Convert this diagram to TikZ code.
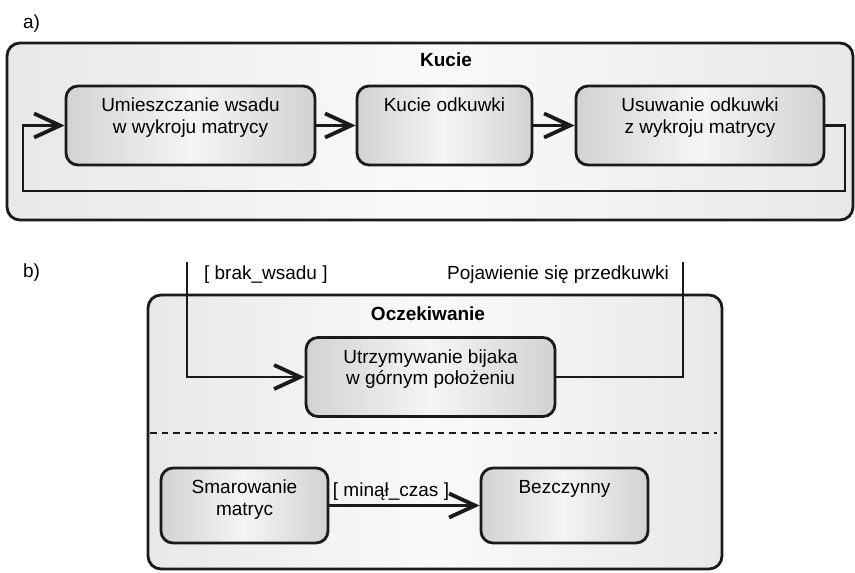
\documentclass[tikz,border=0pt]{standalone}
\usepackage{fontspec}
\setmainfont{Liberation Sans}
\usetikzlibrary{arrows.meta}
\definecolor{ink}{HTML}{1A1A1A}
\definecolor{outerside}{HTML}{E8E8E8}
\definecolor{outermid}{HTML}{FAFAFA}
\definecolor{stateside}{HTML}{D2D2D2}
\definecolor{statemid}{HTML}{F5F5F5}
\begin{document}
\begin{tikzpicture}[x=0.5pt,y=-0.5pt,
  every node/.style={font=\fontsize{9.5}{10.75}\selectfont},
  outerbox/.style={draw=ink, line width=1.4pt, rounded corners=6.5pt, inner sep=0pt,
    left color=outerside, right color=outerside, middle color=outermid},
  statebox/.style={draw=ink, line width=1.4pt, rounded corners=6pt, inner sep=0pt,
    left color=stateside, right color=stateside, middle color=statemid},
  statetext/.style={anchor=north, align=center, inner sep=0pt, yshift=-6.5pt},
  title/.style={anchor=base, font=\fontsize{9.5}{10.75}\selectfont\bfseries},
  flow/.style={draw=ink, line width=1.35pt,
    -{Straight Barb[length=13pt,width=12pt,line width=1.9pt]}},
  wire/.style={draw=ink, line width=1.35pt},
  divider/.style={draw=ink, line width=1pt, dash pattern=on 3.25pt off 2.5pt},
]
\useasboundingbox (0,0) rectangle (855,572);

% ---- a) forging cycle ----
\node[anchor=base west] (capA) at (16,29) {a)};
\node[outerbox, minimum width=423pt, minimum height=88.5pt] (kucie) at (430,131.5) {};
\node[title] (kucieT) at (446,67) {Kucie};

\node[statebox, minimum width=124.5pt, minimum height=39.5pt] (a1) at (190.5,125.5) {};
\node[statebox, minimum width=87.5pt, minimum height=39.5pt] (a2) at (444.5,125.5) {};
\node[statebox, minimum width=124pt, minimum height=39.5pt] (a3) at (700,125.5) {};
\node[statetext] (a1t) at (a1.north) {Umieszczanie wsadu\\w wykroju matrycy};
\node[statetext] (a2t) at (a2.north) {Kucie odkuwki};
\node[statetext] (a3t) at (a3.north) {Usuwanie odkuwki\\z wykroju matrycy};

\draw[flow] (a1) -- (a2);
\draw[flow] (a2) -- (a3);
\coordinate (loopR) at (845,191);
\coordinate (loopL) at (23,191);
\draw[flow] (a3.east) -| (loopR) -- (loopL) |- (a1.west);

% ---- b) waiting state ----
\node[anchor=base west] (capB) at (16,277) {b)};
\node[outerbox, minimum width=287pt, minimum height=137pt] (ocz) at (435,432) {};
\node[title] (oczT) at (428,320) {Oczekiwanie};

\node[statebox, minimum width=124.5pt, minimum height=39.5pt] (bu) at (430.5,377) {};
\node[statetext] (but) at (bu.north) {Utrzymywanie bijaka\\w górnym położeniu};

\coordinate (divL) at (150,433);
\coordinate (divR) at (717,433);
\draw[divider] (divL) -- (divR);

\node[statebox, minimum width=83.5pt, minimum height=37.5pt] (sm) at (244.5,505.5) {};
\node[statebox, minimum width=83.5pt, minimum height=37.5pt] (bez) at (564.5,505.5) {};
\node[statetext] (smt) at (sm.north) {Smarowanie\\matryc};
\node[statetext] (bezt) at (bez.north) {Bezczynny};

\coordinate (brakIn) at (187,262);
\draw[flow] (brakIn) |- (bu.west);
\node[anchor=base west] (brakL) at (197,279) {[ brak\_wsadu ]};

\coordinate (pojOut) at (683,262);
\draw[wire] (bu.east) -| (pojOut);
\node[anchor=base east] (pojL) at (676,279) {Pojawienie się przedkuwki};

\draw[flow] (sm) -- (bez);
\node[anchor=base] (czasL) at (391,496) {[ minął\_czas ]};
\end{tikzpicture}
\end{document}
